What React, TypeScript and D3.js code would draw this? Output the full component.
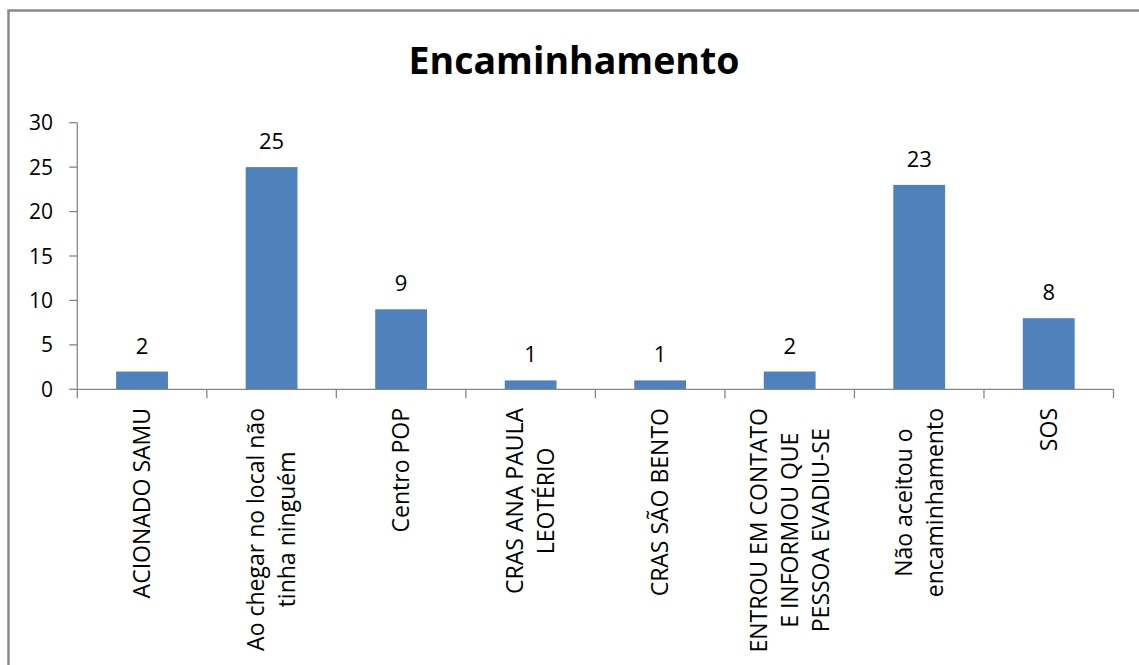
import React, { useRef, useEffect } from 'react';
import * as d3 from 'd3';

const categories: string[][] = [
  ['ACIONADO SAMU'],
  ['Ao chegar no local não', 'tinha ninguém'],
  ['Centro POP'],
  ['CRAS ANA PAULA', 'LEOTÉRIO'],
  ['CRAS SÃO BENTO'],
  ['ENTROU EM CONTATO', 'E INFORMOU QUE', 'PESSOA EVADIU-SE'],
  ['Não aceitou o', 'encaminhamento'],
  ['SOS'],
];
const values: number[] = [2, 25, 9, 1, 1, 2, 23, 8];
const yTicks: number[] = [0, 5, 10, 15, 20, 25, 30];
const title = 'Encaminhamento';

const W = 1139;
const H = 665;
const FONT = '"Open Sans", "Liberation Sans", sans-serif';
const AXIS_COLOR = '#868686';

const App: React.FC = () => {
  const svgRef = useRef<SVGSVGElement>(null);

  useEffect(() => {
    if (!svgRef.current) return;
    const svg = d3.select(svgRef.current);
    svg.selectAll('*').remove();

    const left = 77.3;
    const right = 1113.5;
    const top = 122.7;
    const bottom = 389.3;

    const keys = categories.map(c => c.join(' '));
    const x = d3.scaleBand<string>().domain(keys).range([left, right]).padding(0);
    const y = d3.scaleLinear().domain([0, 30]).range([bottom, top]);
    const barW = x.bandwidth() * 0.4;

    // outer frame (chart is cropped on right/bottom)
    svg.append('rect')
      .attr('x', 8.5).attr('y', 10.5)
      .attr('width', 1300).attr('height', 800)
      .attr('fill', 'white')
      .attr('stroke', '#8a8a8a')
      .attr('stroke-width', 2.5);

    // title
    svg.append('text')
      .attr('x', 574).attr('y', 74)
      .attr('text-anchor', 'middle')
      .style('font-family', FONT)
      .style('font-weight', 'bold')
      .style('font-size', '37.5px')
      .attr('fill', '#000')
      .text(title);

    // y axis
    const yAxis = svg.append('g');
    yAxis.append('line')
      .attr('x1', left).attr('x2', left)
      .attr('y1', top).attr('y2', bottom)
      .attr('stroke', AXIS_COLOR).attr('stroke-width', 1.3);
    yTicks.forEach(t => {
      yAxis.append('line')
        .attr('x1', left - 8).attr('x2', left)
        .attr('y1', y(t)).attr('y2', y(t))
        .attr('stroke', AXIS_COLOR).attr('stroke-width', 1.3);
      yAxis.append('text')
        .attr('x', 53).attr('y', y(t))
        .attr('dy', '0.36em')
        .attr('text-anchor', 'end')
        .style('font-family', FONT)
        .style('font-size', '21px')
        .attr('fill', '#000')
        .text(String(t));
    });

    // bars
    svg.append('g').selectAll('rect')
      .data(values)
      .enter()
      .append('rect')
      .attr('x', (d, i) => (x(keys[i]) || 0) + (x.bandwidth() - barW) / 2)
      .attr('y', d => y(d))
      .attr('width', barW)
      .attr('height', d => bottom - y(d))
      .attr('fill', '#4F81BD');

    // value labels
    svg.append('g').selectAll('text')
      .data(values)
      .enter()
      .append('text')
      .attr('x', (d, i) => (x(keys[i]) || 0) + x.bandwidth() / 2)
      .attr('y', d => y(d) - 18)
      .attr('text-anchor', 'middle')
      .style('font-family', FONT)
      .style('font-size', '22px')
      .attr('fill', '#000')
      .text(d => String(d));

    // x axis
    const xAxis = svg.append('g');
    xAxis.append('line')
      .attr('x1', left).attr('x2', right)
      .attr('y1', bottom).attr('y2', bottom)
      .attr('stroke', AXIS_COLOR).attr('stroke-width', 1.3);
    const bounds = keys.map(k => x(k) || 0).concat([right]);
    bounds.forEach(b => {
      xAxis.append('line')
        .attr('x1', b).attr('x2', b)
        .attr('y1', bottom).attr('y2', bottom + 9)
        .attr('stroke', AXIS_COLOR).attr('stroke-width', 1.3);
    });

    // rotated category labels, centred lines, top-aligned block
    const labelTop = 408;
    const lineGap = 31;
    categories.forEach((lines, i) => {
      const cx = (x(keys[i]) || 0) + x.bandwidth() / 2;
      const grp = xAxis.append('g');
      const texts = lines.map(ln => grp.append('text')
        .attr('text-anchor', 'middle')
        .attr('dy', '0.36em')
        .style('font-family', FONT)
        .style('font-size', '23px')
        .attr('fill', '#000')
        .text(ln));
      const maxLen = d3.max(texts, t => (t.node() as SVGTextElement).getComputedTextLength()) || 0;
      const cy = labelTop + maxLen / 2;
      texts.forEach((t, j) => {
        const off = (j - (lines.length - 1) / 2) * lineGap;
        t.attr('transform', `translate(${cx + off},${cy}) rotate(-90)`);
      });
    });
  }, []);

  return (
    <svg
      ref={svgRef}
      width={W}
      height={H}
      viewBox={`0 0 ${W} ${H}`}
      style={{ position: 'absolute', left: 0, top: 0, background: '#fff' }}
    />
  );
};

export default App;
